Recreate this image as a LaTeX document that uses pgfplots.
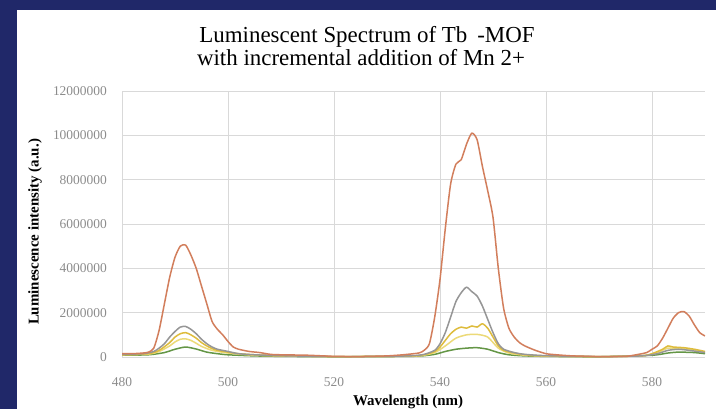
\documentclass[border=0pt]{standalone}
\usepackage{pgfplots}
\pgfplotsset{compat=1.18}
\usepackage{fontspec}
\setmainfont{Liberation Serif}
\definecolor{navyband}{RGB}{32,40,105}
\definecolor{sorange}{RGB}{210,126,92}
\definecolor{sgrey}{RGB}{150,150,150}
\definecolor{sgold}{RGB}{222,188,60}
\definecolor{slyellow}{RGB}{236,218,120}
\definecolor{sgreen}{RGB}{100,150,70}
\definecolor{ticktext}{RGB}{140,140,140}
\begin{document}
\begin{tikzpicture}[x=1bp,y=1bp]
\fill[white] (0,0) rectangle (716,409);
\fill[navyband] (0,0) rectangle (17,409);
\fill[navyband] (0,399) rectangle (716,409);
\useasboundingbox (0,0) rectangle (716,409);
\begin{axis}[
  at={(122bp,52bp)}, anchor=south west,
  width=583bp, height=266bp, scale only axis,
  xmin=480, xmax=590, ymin=0, ymax=12000000,
  axis line style={draw=none},
  major tick length=0pt,
  grid=major,
  grid style={color=black!15, line width=0.8bp},
  xtick={480,500,520,540,560,580},
  ytick={0,2000000,4000000,6000000,8000000,10000000,12000000},
  scaled y ticks=false,
  /pgf/number format/assume math mode=true,
  /pgf/number format/fixed,
  /pgf/number format/1000 sep={},
  yticklabel style={anchor=east, inner sep=0pt, xshift=-15bp, font=\fontsize{13.5}{14}\selectfont, color=ticktext},
  xticklabel style={anchor=north, inner sep=0pt, yshift=-20bp, font=\fontsize{13.5}{14}\selectfont, color=ticktext},
  every axis plot/.append style={line width=1.5bp, line join=round, smooth, tension=0.4},
]
% green
\addplot[sgreen] coordinates {
(480,0.08e6)(485,0.1e6)(488,0.2e6)(490,0.35e6)(492,0.45e6)(494,0.36e6)(496,0.22e6)(498,0.15e6)(500,0.1e6)(505,0.05e6)(510,0.03e6)(520,0.01e6)(530,0.02e6)(536,0.04e6)(539,0.12e6)(541,0.25e6)(543,0.35e6)(545,0.4e6)(547,0.42e6)(549,0.35e6)(551,0.2e6)(553,0.1e6)(556,0.05e6)(560,0.03e6)(570,0.01e6)(580,0.08e6)(583,0.18e6)(585,0.22e6)(588,0.2e6)(590,0.15e6)};
% light yellow
\addplot[slyellow] coordinates {
(480,0.1e6)(485,0.13e6)(487,0.25e6)(489,0.5e6)(490,0.68e6)(491,0.8e6)(492,0.82e6)(493,0.75e6)(494,0.62e6)(495,0.48e6)(497,0.3e6)(500,0.18e6)(505,0.08e6)(510,0.05e6)(520,0.02e6)(530,0.03e6)(536,0.05e6)(539,0.2e6)(541,0.5e6)(543,0.85e6)(545,1.0e6)(547,1.02e6)(549,0.9e6)(551,0.4e6)(553,0.18e6)(556,0.08e6)(560,0.04e6)(570,0.02e6)(578,0.05e6)(581,0.2e6)(583,0.4e6)(585,0.38e6)(588,0.32e6)(590,0.22e6)};
% gold
\addplot[sgold] coordinates {
(480,0.1e6)(485,0.15e6)(487,0.3e6)(489,0.65e6)(490,0.9e6)(491,1.05e6)(492,1.1e6)(493,1.0e6)(494,0.85e6)(495,0.65e6)(496,0.5e6)(497,0.38e6)(498,0.3e6)(500,0.22e6)(502,0.15e6)(505,0.1e6)(510,0.06e6)(520,0.02e6)(530,0.03e6)(535,0.05e6)(537,0.1e6)(539,0.25e6)(540,0.45e6)(541,0.75e6)(542,1.05e6)(543,1.25e6)(544,1.35e6)(545,1.3e6)(546,1.4e6)(547,1.35e6)(548,1.5e6)(549,1.3e6)(550,0.9e6)(551,0.5e6)(552,0.3e6)(554,0.18e6)(556,0.1e6)(560,0.05e6)(570,0.02e6)(578,0.05e6)(580,0.15e6)(582,0.35e6)(583,0.5e6)(584,0.45e6)(586,0.42e6)(588,0.35e6)(590,0.25e6)};
% grey
\addplot[sgrey] coordinates {
(480,0.12e6)(484,0.15e6)(486,0.25e6)(487,0.4e6)(488,0.6e6)(489,0.9e6)(490,1.15e6)(491,1.35e6)(492,1.38e6)(493,1.25e6)(494,1.05e6)(495,0.8e6)(496,0.6e6)(497,0.45e6)(498,0.35e6)(500,0.25e6)(502,0.15e6)(505,0.1e6)(510,0.06e6)(520,0.02e6)(530,0.03e6)(535,0.06e6)(537,0.12e6)(539,0.3e6)(540,0.6e6)(541,1.1e6)(542,1.8e6)(543,2.5e6)(544,2.9e6)(545,3.15e6)(546,2.95e6)(547,2.75e6)(548,2.3e6)(549,1.7e6)(550,1.1e6)(551,0.6e6)(552,0.35e6)(554,0.2e6)(556,0.12e6)(560,0.06e6)(570,0.02e6)(578,0.05e6)(581,0.15e6)(583,0.3e6)(585,0.35e6)(587,0.3e6)(590,0.2e6)};
% orange
\addplot[sorange] coordinates {
(480,0.15e6)(482,0.15e6)(484,0.18e6)(485,0.22e6)(486,0.4e6)(487,1.2e6)(488,2.4e6)(489,3.6e6)(490,4.5e6)(491,5.0e6)(492,5.05e6)(493,4.6e6)(494,4.0e6)(495,3.2e6)(496,2.4e6)(497,1.6e6)(498,1.25e6)(499,1.0e6)(500,0.7e6)(501,0.45e6)(502,0.35e6)(504,0.25e6)(506,0.2e6)(508,0.12e6)(510,0.1e6)(515,0.08e6)(520,0.03e6)(525,0.02e6)(530,0.05e6)(533,0.1e6)(536,0.18e6)(537,0.3e6)(538,0.6e6)(539,1.8e6)(540,3.5e6)(541,5.8e6)(542,7.8e6)(543,8.7e6)(544,8.9e6)(545,9.6e6)(546,10.1e6)(547,9.8e6)(548,8.6e6)(549,7.5e6)(550,6.3e6)(551,4.0e6)(552,2.2e6)(553,1.3e6)(554,0.9e6)(555,0.65e6)(556,0.5e6)(558,0.3e6)(560,0.15e6)(562,0.1e6)(565,0.05e6)(570,0.02e6)(575,0.03e6)(577,0.1e6)(579,0.2e6)(580,0.35e6)(581,0.5e6)(582,0.85e6)(583,1.3e6)(584,1.75e6)(585,2.0e6)(586,2.05e6)(587,1.85e6)(588,1.45e6)(589,1.1e6)(590,0.95e6)};
\end{axis}
\node[font=\fontsize{23}{24}\selectfont, anchor=base] at (367,367) {Luminescent Spectrum of Tb\hspace{10bp}-MOF};
\node[font=\fontsize{23}{24}\selectfont, anchor=base] at (361,344) {with incremental addition of Mn 2+};
\node[font=\bfseries\fontsize{15}{16}\selectfont, rotate=90] at (35,177) {Luminescence intensity (a.u.)};
\node[font=\bfseries\fontsize{15}{16}\selectfont] at (408,7) {Wavelength (nm)};
\end{tikzpicture}
\end{document}
